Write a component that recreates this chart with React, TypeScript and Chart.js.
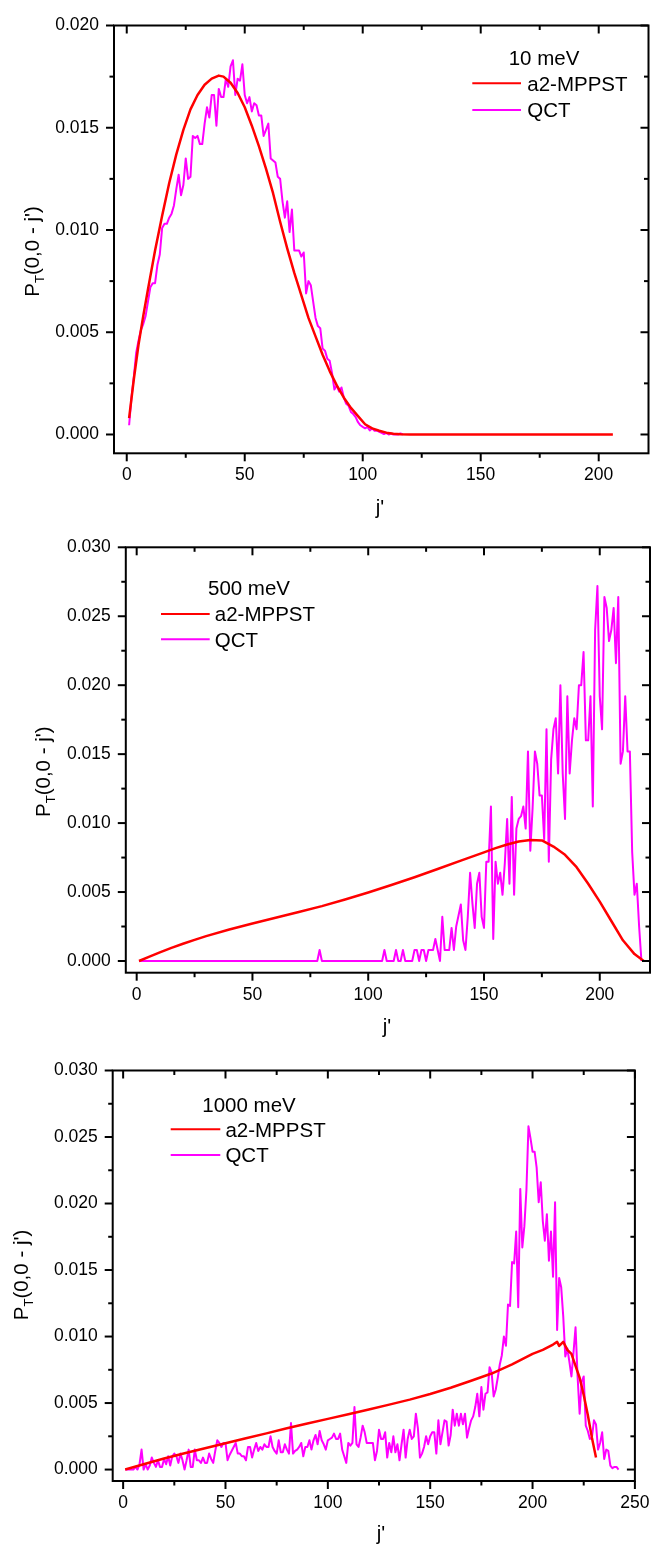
import React, { useEffect, useRef } from 'react';
import { Chart, registerables } from 'chart.js';

Chart.register(...registerables);

const FONT = '"Liberation Sans", Arial, Helvetica, sans-serif';
const TICK_FONT_SIZE = 17.5;
const TEXT_FONT_SIZE = 20.5;

// ---------------- Panel 1 : 10 meV ----------------
const RED1_J = [1, 3, 5, 7, 9, 12, 15, 18, 21, 24, 27, 30, 33, 36, 39, 41, 44, 47, 50, 53, 56, 59, 62, 65, 68, 71, 74, 77, 80, 83, 86, 89, 92, 95, 98, 101, 104, 107, 110, 113, 116, 120, 206];
const RED1_P = [0.0008, 0.0027, 0.0044, 0.0058, 0.0071, 0.0090, 0.0107, 0.0123, 0.0137, 0.0149, 0.0159, 0.0166, 0.0171, 0.0174, 0.01755, 0.0175, 0.0172, 0.0167, 0.0160, 0.0151, 0.0141, 0.0130, 0.0118, 0.0104, 0.0091, 0.0079, 0.0068, 0.0057, 0.0048, 0.0039, 0.0031, 0.0024, 0.0018, 0.0013, 0.0009, 0.0005, 0.0003, 0.00018, 0.00009, 0.00004, 0.00001, 0, 0];
// QCT, j' = 1 .. 117
const QCT1_P = [
  0.00045, 0.0018, 0.0028, 0.0040, 0.0046, 0.0051, 0.0054, 0.0058, 0.0065, 0.0072,
  0.0074, 0.0074, 0.0083, 0.0088, 0.0101, 0.0103, 0.0103, 0.0106, 0.0108, 0.0112,
  0.0120, 0.0127, 0.0117, 0.0122, 0.0135, 0.0125, 0.0126, 0.0146, 0.0145, 0.0146,
  0.0142, 0.0142, 0.0152, 0.0160, 0.0155, 0.0166, 0.0166, 0.0151, 0.0169, 0.0165,
  0.0165, 0.0174, 0.0170, 0.0180, 0.0183, 0.0166, 0.0174, 0.0173, 0.0181, 0.0166,
  0.0162, 0.0165, 0.0158, 0.0162, 0.0161, 0.0156, 0.0156, 0.0146, 0.0149, 0.0152,
  0.0135, 0.0134, 0.0133, 0.0126, 0.0125, 0.0114, 0.0106, 0.0114, 0.0099, 0.0110,
  0.0090, 0.0090, 0.0090, 0.0087, 0.0089, 0.0069, 0.0075, 0.0073, 0.0065, 0.0057,
  0.0053, 0.0052, 0.0042, 0.0041, 0.0037, 0.0036, 0.0030, 0.0022, 0.0024, 0.0021,
  0.0023, 0.0018, 0.0015, 0.0014, 0.0011, 0.0010, 0.00085, 0.0006, 0.00045, 0.00037,
  0.0003, 0.00037, 0.0002, 0.0003, 0.00018, 0.0002, 0.00013, 0.00008, 0.00002, 0.00008,
  0, 0.00005, 0, 0, 0, 0.00005, 0,
];
const QCT1_J = QCT1_P.map((_, i) => i + 1);

// ---------------- Panel 2 : 500 meV ----------------
const RED2_J = [1, 5, 10, 15, 20, 25, 30, 40, 50, 60, 70, 80, 90, 100, 110, 120, 130, 140, 150, 155, 160, 165, 170, 175, 180, 185, 190, 195, 200, 205, 210, 215, 219];
const RED2_P = [0, 0.00028, 0.00062, 0.00095, 0.00125, 0.00153, 0.0018, 0.00228, 0.00272, 0.00314, 0.00355, 0.00398, 0.00446, 0.00497, 0.00551, 0.00607, 0.00667, 0.00728, 0.00788, 0.00818, 0.00845, 0.00866, 0.00878, 0.00874, 0.0083, 0.0077, 0.0068, 0.0056, 0.0043, 0.0029, 0.0015, 0.0005, 0];
const QCT2_LOW_J = [1, 78, 79, 80, 106, 107, 108, 111, 112, 113, 114, 115, 116, 119, 120, 121, 122, 123, 124, 125, 126, 127, 128, 129, 130, 131];
const QCT2_LOW_P = [0, 0, 0.0008, 0, 0, 0.0008, 0, 0, 0.0008, 0, 0, 0.0008, 0, 0, 0.0008, 0.0008, 0, 0.0008, 0.0008, 0, 0.0008, 0.0008, 0.0008, 0.0016, 0.0008, 0];
const QCT2_HIGH_START = 132;
// QCT, j' = 132 .. 218
const QCT2_HIGH_P = [
  0.0032, 0.0008, 0.0008, 0.0008, 0.0024, 0.0008, 0.0025, 0.0033, 0.0041, 0.0015,
  0.0008, 0.0032, 0.0064, 0.0042, 0.0024, 0.0056, 0.0064, 0.0032, 0.0024, 0.0072,
  0.0072, 0.0112, 0.0016, 0.0072, 0.0056, 0.0064, 0.0048, 0.0071, 0.0103, 0.0056,
  0.0119, 0.0048, 0.0096, 0.0103, 0.0105, 0.0112, 0.0096, 0.0152, 0.0080, 0.0111,
  0.0152, 0.0143, 0.0120, 0.0120, 0.0088, 0.0168, 0.0072, 0.0146, 0.0168, 0.0176,
  0.0136, 0.0200, 0.0136, 0.0103, 0.0192, 0.0136, 0.0160, 0.0176, 0.0168, 0.0200,
  0.0200, 0.0224, 0.0160, 0.0160, 0.0192, 0.0112, 0.0240, 0.0272, 0.0192, 0.0168,
  0.0264, 0.0256, 0.0232, 0.0240, 0.0256, 0.0216, 0.0264, 0.0143, 0.0152, 0.0192,
  0.0152, 0.0152, 0.0079, 0.0048, 0.0056, 0.0025, 0,
];
const QCT2_J = [...QCT2_LOW_J, ...QCT2_HIGH_P.map((_, i) => QCT2_HIGH_START + i)];
const QCT2_P = [...QCT2_LOW_P, ...QCT2_HIGH_P];

// ---------------- Panel 3 : 1000 meV ----------------
const RED3_J = [1, 10, 20, 30, 40, 50, 60, 70, 80, 90, 100, 110, 120, 130, 140, 150, 160, 170, 180, 190, 200, 205, 210, 212, 213, 215, 217, 219, 221, 223, 225, 227, 229, 231];
const RED3_P = [0, 0.0004, 0.00083, 0.00122, 0.0016, 0.00198, 0.00235, 0.00272, 0.0031, 0.00346, 0.00381, 0.00416, 0.00452, 0.00488, 0.00526, 0.00568, 0.00615, 0.00668, 0.00722, 0.0079, 0.0087, 0.0090, 0.0094, 0.0096, 0.0093, 0.0096, 0.0090, 0.0087, 0.0078, 0.0069, 0.0056, 0.0041, 0.0024, 0.0009];
// QCT, j' = 1 .. 242
const QCT3_P = [
  0, 0, 0, 0, 0, 0.0002, 0, 0.0004, 0.0015, 0,
  0.0004, 0, 0.0003, 0.0009, 0.0005, 0.0002, 0.0007, 0.0002, 0.0002, 0.0008,
  0.0004, 0.0010, 0.0003, 0.0010, 0.0012, 0.0010, 0.0005, 0.0012, 0.0007, 0,
  0.0007, 0.0015, 0.0002, 0.0002, 0.0015, 0.0007, 0.0007, 0.0005, 0.0009, 0.0005,
  0.0005, 0.0012, 0.0008, 0.0005, 0.0014, 0.0022, 0.0020, 0.0017, 0.0020, 0.0020,
  0.0007, 0.0011, 0.0014, 0.0017, 0.0020, 0.0012, 0.0012, 0.0010, 0.0010, 0.0007,
  0.0017, 0.0017, 0.0009, 0.0015, 0.0020, 0.0014, 0.0017, 0.0015, 0.0019, 0.0017,
  0.0017, 0.0025, 0.0017, 0.0014, 0.0012, 0.0022, 0.0013, 0.0013, 0.0019, 0.0015,
  0.0012, 0.0035, 0.0012, 0.0014, 0.0015, 0.0017, 0.0020, 0.0010, 0.0017, 0.0017,
  0.0022, 0.0015, 0.0022, 0.0026, 0.0019, 0.0029, 0.0022, 0.0019, 0.0015, 0.0022,
  0.0023, 0.0024, 0.0027, 0.0023, 0.0023, 0.0027, 0.0015, 0.0010, 0.0005, 0.0020,
  0.0018, 0.0020, 0.0047, 0.0019, 0.0017, 0.0024, 0.0033, 0.0028, 0.0020, 0.0020,
  0.0020, 0.0020, 0.0007, 0.0014, 0.0030, 0.0023, 0.0023, 0.0028, 0.0009, 0.0020,
  0.0013, 0.0025, 0.0013, 0.0019, 0.0007, 0.0019, 0.0030, 0.0009, 0.0023, 0.0030,
  0.0023, 0.0025, 0.0042, 0.0031, 0.0009, 0.0012, 0.0017, 0.0025, 0.0019, 0.0025,
  0.0028, 0.0028, 0.0012, 0.0037, 0.0019, 0.0028, 0.0037, 0.0036, 0.0018, 0.0026,
  0.0045, 0.0033, 0.0042, 0.0033, 0.0042, 0.0034, 0.0042, 0.0024, 0.0031, 0.0037,
  0.0040, 0.0047, 0.0057, 0.0040, 0.0062, 0.0045, 0.0057, 0.0058, 0.0077, 0.0073,
  0.0055, 0.0060, 0.0069, 0.0079, 0.0086, 0.0100, 0.0093, 0.0124, 0.0123, 0.0156,
  0.0155, 0.0179, 0.0122, 0.0211, 0.0167, 0.0183, 0.0210, 0.0258, 0.0249, 0.0239,
  0.0239, 0.0227, 0.0201, 0.0216, 0.0187, 0.0172, 0.0192, 0.0157, 0.0179, 0.0145,
  0.0201, 0.0105, 0.0144, 0.0137, 0.0115, 0.0085, 0.0091, 0.0081, 0.0070, 0.0088,
  0.0107, 0.0070, 0.0042, 0.0066, 0.0070, 0.0033, 0.0029, 0.0023, 0.0024, 0.0037,
  0.0034, 0.0015, 0.0020, 0.0028, 0.0008, 0.0015, 0.0014, 0.0003, 0.0001, 0.0002,
  0.0002, 0,
];
const QCT3_J = QCT3_P.map((_, i) => i + 1);

// ---------------- ticks & text ----------------
const X_TICKS_200 = [0, 25, 50, 75, 100, 125, 150, 175, 200];
const X_TICKS_250 = [0, 25, 50, 75, 100, 125, 150, 175, 200, 225, 250];
const Y_TICKS_020 = [0, 0.0025, 0.005, 0.0075, 0.01, 0.0125, 0.015, 0.0175, 0.02];
const Y_TICKS_030 = [0, 0.0025, 0.005, 0.0075, 0.01, 0.0125, 0.015, 0.0175, 0.02, 0.0225, 0.025, 0.0275, 0.03];
const X_MAJOR_STEP = 50;
const Y_MAJOR_STEP = 0.005;
const SERIES_NAMES = ['a2-MPPST', 'QCT'];
const SERIES_COLORS = ['#ff0000', '#ff00ff'];
const ENERGY_LABELS = ['10 meV', '500 meV', '1000 meV'];
const X_TITLE = "j'";
const Y_TITLE_MAIN = 'P';
const Y_TITLE_SUB = 'T';
const Y_TITLE_REST = "(0,0 - j')";

type Box = { left: number; right: number; top: number; bottom: number };
type LegendPos = { titleX: number; titleY: number; x0: number; x1: number; textX: number; rows: number[] };
type PanelCfg = {
  canvasTop: number;
  canvasH: number;
  area: Box;
  xMin: number; xMax: number; xTicks: number[];
  yMin: number; yMax: number; yTicks: number[];
  redJ: number[]; redP: number[];
  qctJ: number[]; qctP: number[];
  energy: string;
  legend: LegendPos;
  yTitle: { x: number; y: number };
  xTitle: { x: number; y: number };
};

const PANELS: PanelCfg[] = [
  {
    canvasTop: 0, canvasH: 520,
    area: { left: 114, right: 648.5, top: 19.3, bottom: 453.3 },
    xMin: -5.4, xMax: 221.1, xTicks: X_TICKS_200,
    yMin: -0.00092, yMax: 0.02, yTicks: Y_TICKS_020,
    redJ: RED1_J, redP: RED1_P, qctJ: QCT1_J, qctP: QCT1_P,
    energy: ENERGY_LABELS[0],
    legend: { titleX: 544, titleY: 65, x0: 472.3, x1: 521, textX: 527.3, rows: [83.3, 110] },
    yTitle: { x: 38.5, y: 251.5 },
    xTitle: { x: 380, y: 514 },
  },
  {
    canvasTop: 520, canvasH: 525,
    area: { left: 125.8, right: 650, top: 547.3, bottom: 972.7 },
    xMin: -4.7, xMax: 221.7, xTicks: X_TICKS_200,
    yMin: -0.00085, yMax: 0.03, yTicks: Y_TICKS_030,
    redJ: RED2_J, redP: RED2_P, qctJ: QCT2_J, qctP: QCT2_P,
    energy: ENERGY_LABELS[1],
    legend: { titleX: 249, titleY: 595, x0: 161, x1: 209.7, textX: 214.8, rows: [614, 639.3] },
    yTitle: { x: 50, y: 771.7 },
    xTitle: { x: 387, y: 1033 },
  },
  {
    canvasTop: 1045, canvasH: 501,
    area: { left: 112.7, right: 645, top: 1060.7, bottom: 1481 },
    xMin: -5.1, xMax: 250, xTicks: X_TICKS_250,
    yMin: -0.00086, yMax: 0.03, yTicks: Y_TICKS_030,
    redJ: RED3_J, redP: RED3_P, qctJ: QCT3_J, qctP: QCT3_P,
    energy: ENERGY_LABELS[2],
    legend: { titleX: 249, titleY: 1111.7, x0: 170.7, x1: 220.3, textX: 225.4, rows: [1129.3, 1155] },
    yTitle: { x: 28, y: 1275 },
    xTitle: { x: 381, y: 1540 },
  },
];

const isXMajor = (v: number) => Math.abs(v / X_MAJOR_STEP - Math.round(v / X_MAJOR_STEP)) < 1e-6;
const isYMajor = (v: number) => Math.abs(v / Y_MAJOR_STEP - Math.round(v / Y_MAJOR_STEP)) < 1e-6;

function makeDecor(cfg: PanelCfg) {
  return {
    id: 'panelDecor',
    afterDraw(chart: any) {
      const ctx: CanvasRenderingContext2D = chart.ctx;
      const a = chart.chartArea;
      const xs = chart.scales.x;
      const ys = chart.scales.y;
      const off = cfg.canvasTop;
      const seg = (x0: number, y0: number, x1: number, y1: number) => {
        ctx.beginPath();
        ctx.moveTo(x0, y0);
        ctx.lineTo(x1, y1);
        ctx.stroke();
      };
      ctx.save();
      ctx.strokeStyle = '#000';
      ctx.lineWidth = 2;
      ctx.lineCap = 'butt';
      ctx.strokeRect(a.left, a.top, a.right - a.left, a.bottom - a.top);
      xs.ticks.forEach((t: any) => {
        const p = xs.getPixelForValue(t.value);
        const len = isXMajor(t.value) ? 8 : 4.5;
        seg(p, a.bottom, p, a.bottom + len);
        seg(p, a.top, p, a.top + len);
      });
      ys.ticks.forEach((t: any) => {
        const p = ys.getPixelForValue(t.value);
        const len = isYMajor(t.value) ? 8 : 4.5;
        seg(a.left - len, p, a.left, p);
        seg(a.right - len, p, a.right, p);
      });

      // x title
      ctx.fillStyle = '#000';
      ctx.textBaseline = 'alphabetic';
      ctx.font = `${TEXT_FONT_SIZE}px ${FONT}`;
      ctx.textAlign = 'center';
      ctx.fillText(X_TITLE, cfg.xTitle.x, cfg.xTitle.y - off);

      // y title with subscript
      ctx.save();
      ctx.translate(cfg.yTitle.x, cfg.yTitle.y - off);
      ctx.rotate(-Math.PI / 2);
      const big = `${TEXT_FONT_SIZE}px ${FONT}`;
      const small = `13px ${FONT}`;
      ctx.font = big;
      const wP = ctx.measureText(Y_TITLE_MAIN).width;
      const wR = ctx.measureText(Y_TITLE_REST).width;
      ctx.font = small;
      const wT = ctx.measureText(Y_TITLE_SUB).width;
      let cx = -(wP + wT + wR) / 2;
      ctx.textAlign = 'left';
      ctx.font = big;
      ctx.fillText(Y_TITLE_MAIN, cx, 0);
      cx += wP;
      ctx.font = small;
      ctx.fillText(Y_TITLE_SUB, cx, 5);
      cx += wT;
      ctx.font = big;
      ctx.fillText(Y_TITLE_REST, cx, 0);
      ctx.restore();

      // legend
      const lg = cfg.legend;
      ctx.font = `${TEXT_FONT_SIZE}px ${FONT}`;
      ctx.textAlign = 'center';
      ctx.fillStyle = '#000';
      ctx.fillText(cfg.energy, lg.titleX, lg.titleY - off);
      chart.data.datasets.forEach((ds: any, i: number) => {
        const y = lg.rows[i] - off;
        ctx.strokeStyle = ds.borderColor;
        ctx.lineWidth = 2;
        seg(lg.x0, y, lg.x1, y);
        ctx.fillStyle = '#000';
        ctx.textAlign = 'left';
        ctx.fillText(ds.label, lg.textX, y + 7.2);
      });
      ctx.restore();
    },
  };
}

function Panel({ cfg }: { cfg: PanelCfg }) {
  const ref = useRef<HTMLCanvasElement | null>(null);
  useEffect(() => {
    const canvas = ref.current;
    if (!canvas) return;
    const toPoints = (js: number[], ps: number[]) => js.map((j, i) => ({ x: j, y: ps[i] }));
    const xAxisHeight = cfg.canvasH - (cfg.area.bottom - cfg.canvasTop);
    const chart = new Chart(canvas, {
      type: 'line',
      data: {
        datasets: [
          {
            label: SERIES_NAMES[0],
            data: toPoints(cfg.redJ, cfg.redP),
            borderColor: SERIES_COLORS[0],
            backgroundColor: SERIES_COLORS[0],
            borderWidth: 2.5,
            pointRadius: 0,
            tension: 0,
            fill: false,
            borderJoinStyle: 'round',
          },
          {
            label: SERIES_NAMES[1],
            data: toPoints(cfg.qctJ, cfg.qctP),
            borderColor: SERIES_COLORS[1],
            backgroundColor: SERIES_COLORS[1],
            borderWidth: 2,
            pointRadius: 0,
            tension: 0,
            fill: false,
            borderJoinStyle: 'round',
          },
        ],
      },
      options: {
        responsive: false,
        maintainAspectRatio: false,
        animation: false,
        devicePixelRatio: 1,
        events: [],
        layout: {
          autoPadding: false,
          padding: {
            left: 0,
            top: cfg.area.top - cfg.canvasTop,
            right: 661 - cfg.area.right,
            bottom: 0,
          },
        },
        plugins: {
          legend: { display: false },
          tooltip: { enabled: false },
          title: { display: false },
        },
        scales: {
          x: {
            type: 'linear',
            position: 'bottom',
            min: cfg.xMin,
            max: cfg.xMax,
            bounds: 'data',
            afterBuildTicks: (s: any) => {
              s.ticks = cfg.xTicks.map((v) => ({ value: v }));
            },
            afterFit: (s: any) => {
              s.height = xAxisHeight;
            },
            grid: { display: false, drawTicks: false },
            border: { display: false },
            ticks: {
              autoSkip: false,
              maxRotation: 0,
              minRotation: 0,
              padding: 11.5,
              color: '#000',
              font: { family: FONT, size: TICK_FONT_SIZE },
              callback: (v: any) => (isXMajor(Number(v)) ? String(Math.round(Number(v))) : ''),
            },
          },
          y: {
            type: 'linear',
            position: 'left',
            min: cfg.yMin,
            max: cfg.yMax,
            bounds: 'data',
            afterBuildTicks: (s: any) => {
              s.ticks = cfg.yTicks.map((v) => ({ value: v }));
            },
            afterFit: (s: any) => {
              s.width = cfg.area.left;
            },
            grid: { display: false, drawTicks: false },
            border: { display: false },
            ticks: {
              autoSkip: false,
              padding: 15,
              color: '#000',
              font: { family: FONT, size: TICK_FONT_SIZE },
              callback: (v: any) => (isYMajor(Number(v)) ? Number(v).toFixed(3) : ''),
            },
          },
        },
      } as any,
      plugins: [makeDecor(cfg)],
    });
    return () => chart.destroy();
  }, [cfg]);
  return (
    <canvas
      ref={ref}
      width={661}
      height={cfg.canvasH}
      style={{ position: 'absolute', left: 0, top: cfg.canvasTop, width: 661, height: cfg.canvasH, display: 'block' }}
    />
  );
}

export default function App() {
  return (
    <div style={{ position: 'absolute', left: 0, top: 0, width: 661, height: 1546, background: '#ffffff', overflow: 'hidden' }}>
      {PANELS.map((cfg, i) => (
        <Panel key={i} cfg={cfg} />
      ))}
    </div>
  );
}
